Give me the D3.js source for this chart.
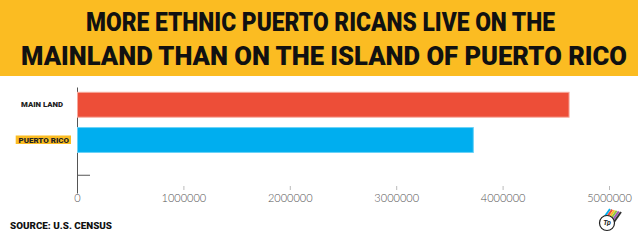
<!DOCTYPE html>
<meta charset="utf-8">
<script src="https://d3js.org/d3.v7.min.js"></script>
<style>
  body { margin: 0; background: #fff; }
  text { font-family: Roboto, "Open Sans", sans-serif; }
</style>
<div id="chart"></div>
<script>

// data
var categories = ["MAIN LAND", "PUERTO RICO", ""];
var values = [4620000, 3720000];
var barColors = ["#ed4e38", "#00aeef"];
var barStrokes = ["#f6a89c", "#6ad2f7"];
var xTicks = [0, 1000000, 2000000, 3000000, 4000000, 5000000];
var titleLines = ["MORE ETHNIC PUERTO RICANS LIVE ON THE", "MAINLAND THAN ON THE ISLAND OF PUERTO RICO"];
var source = "SOURCE: U.S. CENSUS";

var W = 638, H = 241;

var svg = d3.select("#chart").append("svg")
    .attr("width", W)
    .attr("height", H);

// yellow header
svg.append("rect")
    .attr("width", W)
    .attr("height", 76)
    .attr("fill", "#fbbc22");

var titleSpan = [[86, 555], [21, 627]];
svg.selectAll(".title")
  .data(titleLines)
  .enter().append("text")
    .attr("class", "title")
    .attr("x", function(d, i) { return titleSpan[i][0]; })
    .attr("y", function(d, i) { return i == 0 ? 31 : 64.5; })
    .attr("textLength", function(d, i) { return titleSpan[i][1] - titleSpan[i][0]; })
    .attr("lengthAdjust", "spacingAndGlyphs")
    .style("font-size", "25px")
    .style("font-weight", 900)
    .style("fill", "#111")
    .text(function(d) { return d; });

// scales
var x = d3.scaleLinear()
    .domain([0, 5000000])
    .range([77, 609]);

var y = d3.scaleBand()
    .domain(categories)
    .range([87, 193])
    .paddingInner(0.294)
    .paddingOuter(0.15);

// x axis (no domain line)
var xAxis = svg.append("g")
    .attr("transform", "translate(0,186)")
    .call(d3.axisBottom(x).tickValues(xTicks).tickSize(4).tickPadding(4).tickFormat(d3.format("d")));
xAxis.select(".domain").remove();
xAxis.selectAll("line").attr("stroke", "#bbb");
xAxis.selectAll("text")
    .style("font-family", "Lato, sans-serif")
    .style("font-weight", 300)
    .style("font-size", "11px")
    .attr("fill", "#555");

// y axis, ticks pointing inward
var yAxis = svg.append("g")
    .attr("transform", "translate(77,0)")
    .call(d3.axisLeft(y).tickSizeInner(-13).tickSizeOuter(0).tickFormat(""));
yAxis.selectAll("path, line").attr("stroke", "#555");

// bars
svg.selectAll(".bar")
  .data(values)
  .enter().append("rect")
    .attr("class", "bar")
    .attr("x", x(0) + 0.5)
    .attr("y", function(d, i) { return y(categories[i]); })
    .attr("width", function(d) { return x(d) - x(0); })
    .attr("height", y.bandwidth())
    .attr("fill", function(d, i) { return barColors[i]; })
    .attr("stroke", function(d, i) { return barStrokes[i]; })
    .attr("stroke-width", 1);

// category labels
var labSpan = [[21, 63], [18.5, 69]];
var labels = svg.selectAll(".lab")
  .data(categories.slice(0, 2))
  .enter().append("g")
    .attr("class", "lab")
    .attr("transform", function(d) { return "translate(0," + (y(d) + y.bandwidth() / 2) + ")"; });

labels.filter(function(d, i) { return i == 1; })
  .append("rect")
    .attr("x", 15.7)
    .attr("y", -4.5)
    .attr("width", 55.3)
    .attr("height", 8.5)
    .attr("fill", "#fbbc22");

labels.append("text")
    .attr("x", function(d, i) { return labSpan[i][0]; })
    .attr("dy", "0.35em")
    .attr("textLength", function(d, i) { return labSpan[i][1] - labSpan[i][0]; })
    .attr("lengthAdjust", "spacingAndGlyphs")
    .style("font-size", "7.5px")
    .style("font-weight", 900)
    .style("fill", "#222")
    .text(function(d) { return d; });

// source
svg.append("text")
    .attr("x", 10)
    .attr("y", 229)
    .attr("textLength", 102)
    .attr("lengthAdjust", "spacingAndGlyphs")
    .style("font-size", "9px")
    .style("font-weight", 900)
    .style("fill", "#111")
    .text(source);

// little logo
var logo = svg.append("g").attr("transform", "translate(607,223)");
var arrowCols = ["#00aeef", "#ed4e38", "#fbbc22", "#8dc63f", "#9b59b6", "#333"];
arrowCols.forEach(function(c, i) {
  logo.append("line")
    .attr("x1", -4 + i * 2.2).attr("y1", -4 + i * 0.6)
    .attr("x2", 3 + i * 2.2).attr("y2", -14 + i * 0.6)
    .attr("stroke", c).attr("stroke-width", 2);
});
logo.append("circle")
    .attr("r", 7.5)
    .attr("fill", "#fff")
    .attr("stroke", "#222")
    .attr("stroke-width", 1.2);
logo.append("text")
    .attr("text-anchor", "middle")
    .attr("dy", "0.35em")
    .style("font-size", "7px")
    .style("font-weight", 700)
    .style("font-style", "italic")
    .style("fill", "#222")
    .text("Tp");

</script>
